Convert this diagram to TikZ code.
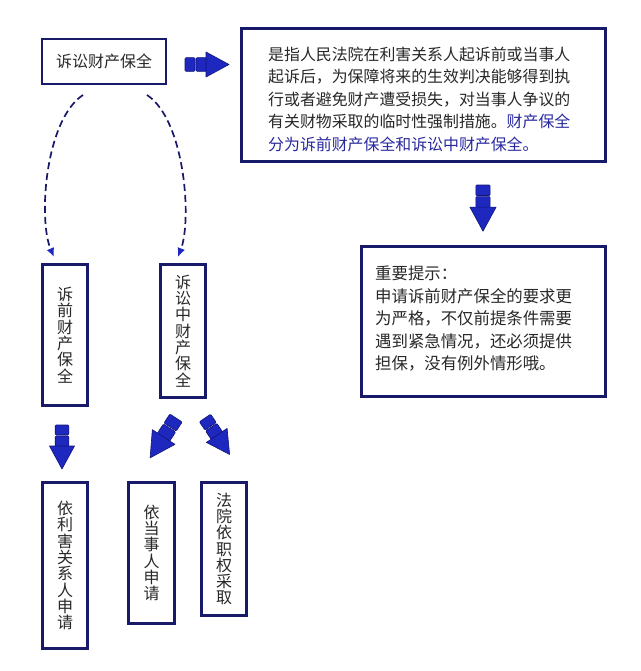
\documentclass[tikz,border=0pt]{standalone}
\usepackage{fontspec}
\setmainfont{Noto Sans CJK SC}
\usetikzlibrary{arrows.meta}
\definecolor{navy}{RGB}{25,25,105}
\definecolor{ablue}{RGB}{30,40,190}
\definecolor{adark}{RGB}{15,20,120}
\definecolor{txt}{RGB}{40,40,40}
\definecolor{btxt}{RGB}{40,40,160}
\begin{document}
\begin{tikzpicture}[x=1pt,y=-1pt,
  box/.style={draw=navy,line width=2.8pt,fill=white,inner sep=0pt,text=txt,
    font=\fontsize{16}{16.3}\selectfont,align=center},
  bodytext/.style={inner sep=0pt,text=txt,align=left,anchor=north west},
  dasharrow/.style={draw=navy,line width=1.7pt,dash pattern=on 7pt off 4pt,
    -{Latex[length=9pt,width=8pt,color=ablue]}},
  blk/.style={fill=ablue,draw=adark,line width=0.6pt},
  pics/blockarrow/.style={code={
    \filldraw[blk,rounded corners=1pt] (0,-6.8) rectangle (10,6.8);
    \filldraw[blk,rounded corners=1pt] (11,-6.8) rectangle (21.5,6.8);
    \filldraw[blk,line join=round] (21,-12.5) -- (44,0) -- (21,12.5) -- cycle;
  }}]
\fill[white] (0,0) rectangle (640,671);
\useasboundingbox (0,0) rectangle (640,671);

% top-left box
\node[box,minimum width=124,minimum height=45] (top) at (104,61.5) {诉讼财产保全};

% definition box
\node[box,minimum width=364,minimum height=133] (def) at (423.5,95) {};
\node[bodytext,font=\fontsize{15.9}{22.5}\selectfont] (deftext) at (268,46.5)
  {是指人民法院在利害关系人起诉前或当事人\\
   起诉后，为保障将来的生效判决能够得到执\\
   行或者避免财产遭受损失，对当事人争议的\\
   有关财物采取的临时性强制措施。\textcolor{btxt}{财产保全}\\
   \textcolor{btxt}{分为诉前财产保全和诉讼中财产保全。}};

% hint box
\node[box,minimum width=244,minimum height=150] (hint) at (483.5,321.5) {};
\node[bodytext,font=\fontsize{16.4}{22.5}\selectfont] (hinttext) at (375,266)
  {重要提示：\\
   申请诉前财产保全的要求更\\
   为严格，不仅前提条件需要\\
   遇到紧急情况，还必须提供\\
   担保，没有例外情形哦。};

% vertical boxes
\node[box,minimum width=45,minimum height=141] (pre) at (65,335) {诉\\前\\财\\产\\保\\全};
\node[box,minimum width=45,minimum height=133] (mid) at (183,331) {诉\\讼\\中\\财\\产\\保\\全};
\node[box,minimum width=45,minimum height=166] (b1) at (65,565.5) {依\\利\\害\\关\\系\\人\\申\\请};
\node[box,minimum width=46,minimum height=141] (b2) at (151.5,553) {依\\当\\事\\人\\申\\请};
\node[box,minimum width=45,minimum height=133] (b3) at (224,549) {法\\院\\依\\职\\权\\采\\取};

% dashed curved connectors
\coordinate (d1s) at (83,95);
\coordinate (d1e) at (54,257);
\coordinate (d2s) at (147,95);
\coordinate (d2e) at (178,257);
\draw[dasharrow] (d1s) .. controls (45,120) and (38,220) .. (d1e);
\draw[dasharrow] (d2s) .. controls (185,120) and (192,220) .. (d2e);

% block arrows
\pic at (185,64.5) {blockarrow};
\pic[rotate=-90,scale=1.05] at (483,185) {blockarrow};
\pic[rotate=-90] at (62,425) {blockarrow};
\pic[rotate=-123,scale=1.08] at (176,418) {blockarrow};
\pic[rotate=-56,scale=1.0] at (205,418) {blockarrow};
\end{tikzpicture}
\end{document}
